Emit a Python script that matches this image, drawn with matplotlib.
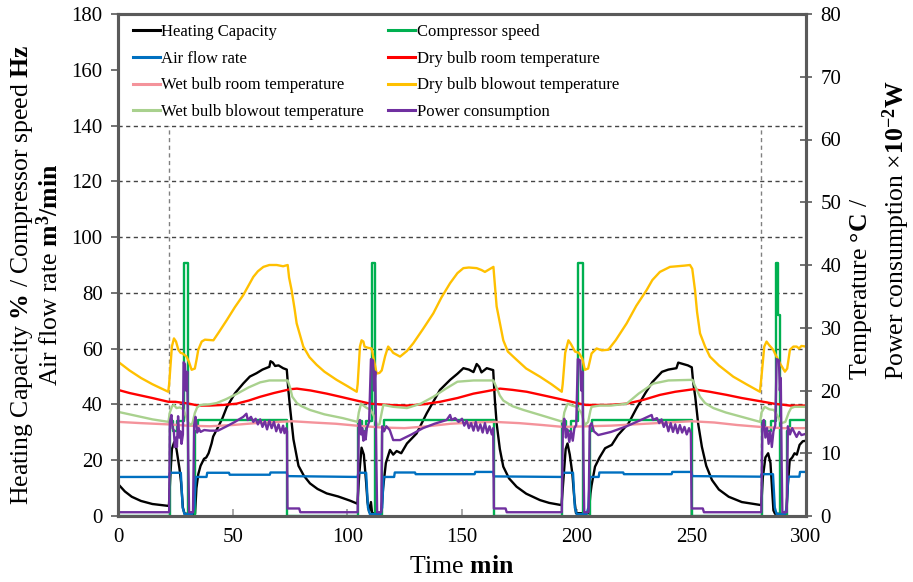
import matplotlib
matplotlib.use('Agg')
import matplotlib.pyplot as plt

plt.rcParams['font.family'] = ['Liberation Serif', 'DejaVu Serif']
plt.rcParams['mathtext.fontset'] = 'custom'
plt.rcParams['mathtext.rm'] = 'Liberation Serif'
plt.rcParams['mathtext.bf'] = 'Liberation Serif:bold'
plt.rcParams['mathtext.it'] = 'Liberation Serif:italic'

# ---- left axis series (%, Hz, m3/min) ----
cap_t = [0, 3, 6, 10, 15, 22.2, 22.8, 23.5, 24.5, 25.5, 26.8, 27.5, 28.3, 29, 33.6, 34.2, 35, 36, 37.5,
         38.5, 39.5, 40.8, 41.5, 43.7, 45.5, 47.4, 51, 54.6, 57.5, 60.4, 63, 66, 66.5, 67.5, 68.5, 70, 72,
         73.6, 74.3, 75, 76.5, 78.7, 81, 83.7, 87, 91, 96, 101.2, 104.4,
         105.2, 106.2, 107.2, 108.2, 108.8, 109.5, 110.3, 110.8, 114.8, 115.6, 116.8, 118.6, 120, 121.5,
         123.5, 126, 130.2, 134.6, 140.4, 144.8, 148, 150.6, 153, 155, 156.4, 157.5, 158.5, 160.8, 163.6,
         164.3, 165.1, 166.5, 168, 170.5, 173.8, 178, 184, 188, 193.4,
         194.3, 195.2, 196, 197, 198.1, 199, 199.7, 205.3, 206, 206.5, 208, 210, 212.4, 215.3, 218, 222.6,
         226, 229.9, 233, 237.2, 240, 243.5, 244.3, 246, 248.5, 250.2, 250.8, 251.7, 253, 254.6, 256.5,
         259, 262, 266.3, 272, 280.5,
         281.2, 282.3, 283.5, 284.5, 285.2, 285.8, 286.5, 291.4, 292, 292.9, 294, 295, 296, 297.2, 298.6, 300]
cap_v = [11.5, 8.8, 6.9, 5.4, 4.3, 3.6, 14, 24, 26.5, 24, 17, 12, 3, 0.8, 0.8, 10, 15, 18, 20.5,
         21, 22.5, 26, 28.5, 32, 35, 39, 44, 47.5, 50, 51.2, 52.5, 53.5, 55.5, 55, 53.8, 54, 53,
         52.5, 45, 39, 27.5, 18, 14.5, 11.7, 9.7, 8.1, 7, 5.5, 4.4,
         15, 24.5, 22, 12, 5, 1.5, 5, 1, 1, 10, 19, 23.7, 22, 23.3,
         22.5, 26, 29.6, 36.8, 45.2, 48.8, 51, 53, 52.5, 51.6, 54.5, 53.5, 51.5, 53, 52.3,
         42, 33.2, 24, 17.7, 13.5, 10.5, 8, 5.7, 4.7, 3.9,
         14, 24, 26, 22, 15.3, 6, 1, 1, 8, 11, 17.7, 21, 24.3, 25.5, 29, 33.2,
         38.5, 44, 48, 51.7, 52.5, 53, 55, 54.6, 54, 53.3, 48, 42.8, 33, 24.8, 18,
         12.9, 9.5, 6.9, 5, 3.9,
         14, 21, 22.5, 19, 10, 2, 0.8, 0.8, 10, 20, 21, 22.5, 22, 25.5, 26.8, 27]

# compressor speed, step changes
comp_t = [0, 22.5, 24.0, 25.8, 28.8, 30.7, 33.7, 35.0, 73.8,
          104.7, 106.2, 108.0, 110.6, 112.0, 114.9, 116.0, 163.8,
          193.6, 195.2, 197.6, 200.7, 202.6, 205.6, 206.8, 250.2,
          280.6, 282.2, 284.7, 287.0, 288.0, 288.7, 291.9, 293.0, 300]
comp_v = [0, 34, 30.5, 34, 90.8, 0, 30.5, 34.5, 0,
          34, 30.5, 34, 90.8, 0, 30.5, 34.5, 0,
          34, 30.5, 34, 90.8, 0, 30.5, 34.5, 0,
          34, 30.5, 34, 90.8, 72, 0, 30.5, 34.5, 34.5]

air_t = [0, 22.3, 22.6, 27.4, 28.2, 29, 32.4, 33.2, 33.9, 38.6, 38.9, 48.4, 48.7, 66.2, 66.5, 73.6, 73.9, 104.5,
         104.8, 108.2, 109, 109.8, 114.4, 115.2, 115.8, 120.4, 120.7, 129.5, 129.8, 155.5, 155.8, 163.6, 163.9, 193.6,
         193.9, 198.4, 199.2, 200, 204.3, 205.1, 205.7, 209.6, 209.9, 220.3, 220.6, 241.4, 241.7, 250.1, 250.4, 280.3,
         280.6, 285.6, 286.4, 287.2, 290.8, 291.6, 292.2, 297.1, 297.4, 300]
air_v = [14.0, 14.0, 15.5, 15.5, 3, 0.7, 0.7, 3, 14.0, 14.0, 15.5, 15.5, 14.8, 14.8, 15.6, 15.6, 14.3, 14.0,
         15.5, 15.5, 3, 0.7, 0.7, 3, 14.0, 14.0, 15.6, 15.6, 15.0, 15.0, 15.8, 15.8, 14.2, 14.0,
         15.5, 15.5, 3, 0.7, 0.7, 3, 14.0, 14.0, 15.6, 15.6, 15.0, 15.0, 15.8, 15.8, 14.3, 14.1,
         15.0, 15.0, 3, 0.7, 0.7, 3, 14.1, 14.1, 15.8, 15.8]

# ---- right axis series (deg C, x10^-2 W) ----
dbr_t = [0, 5, 10, 15, 22, 25, 31, 35, 40, 46, 51.7, 57, 62, 68, 75, 78, 84, 91, 97, 104, 110, 118,
         125.9, 133, 140.4, 148, 155, 161, 166.6, 172, 178.2, 187, 195.6, 200, 204, 207.2, 214, 221.8,
         229, 236.3, 243, 250.9, 258, 265.4, 272, 279.9, 286, 293, 300]
dbr_v = [20.1, 19.6, 19.2, 18.8, 18.2, 18.2, 17.9, 17.6, 17.6, 17.7, 17.9, 18.4, 19, 19.6, 20.2, 20.3,
         20, 19.5, 19, 18.4, 17.9, 17.7, 17.6, 17.8, 18.2, 18.8, 19.5, 19.9, 20.3, 20.1, 19.8, 19.1, 18.4,
         18, 17.7, 17.7, 17.7, 17.9, 18.5, 19.3, 19.8, 20.2, 19.8, 19.3, 18.8, 18.3, 17.9, 17.6, 17.6]

wbr_t = [0, 10, 22, 30, 40, 50, 60, 70, 76, 85, 95, 104, 115, 125, 135, 145, 155, 164, 175, 185,
         194, 205, 215, 225, 240, 250, 260, 270, 280, 290, 300]
wbr_v = [15.0, 14.8, 14.6, 14.4, 14.3, 14.5, 14.8, 15.0, 15.1, 14.9, 14.7, 14.4, 14.1, 14.0, 14.3,
         14.7, 14.9, 15.0, 14.8, 14.5, 14.2, 14.3, 14.4, 14.6, 14.9, 15.1, 14.9, 14.5, 14.2, 14.0, 14.0]

dbb_t = [0, 5, 10, 15, 21.9, 22.3, 23.5, 24.4, 25.3, 26.3, 27.3, 28.2, 29.9, 31, 32.1, 33.5, 34.3, 35,
         36.5, 37.9, 41.6, 44, 47.4, 51, 54.6, 57, 59, 61, 63.4, 66, 69.2, 72, 74, 74.6, 75.7, 77, 77.9,
         80.8, 83.5, 86.6, 90, 95.3, 100, 104.1,
         104.5, 105.5, 106.2, 107, 107.5, 109, 110.6, 111.5, 112.8, 114, 115, 116.5, 117.8, 119, 120, 123,
         126, 128.7, 133, 137.5, 141, 144.8, 148, 150.6, 153, 156.4, 158.5, 160, 163.7, 164.3, 165.1,
         168, 170, 173.8, 178, 184, 189, 193.5,
         193.9, 195, 196.4, 197.5, 199.3, 201, 202.5, 203.6, 205, 206.5, 208.7, 211, 213.8, 217, 221.8,
         226, 230.5, 233, 236.3, 240.7, 244, 247, 249.4, 250.4, 251.6, 252.5, 253.8, 256, 258.1, 262,
         268.3, 274, 279.9,
         280.4, 281.8, 282.8, 284, 285.7, 287, 288.7, 290.8, 291.8, 293, 294.5, 295.9, 297, 298, 300]
dbb_v = [24.6, 23.2, 22, 21, 19.8, 21, 27, 28.3, 27.8, 26.5, 26, 25.9, 25.4, 24.5, 23.3, 23.5, 25, 26.5,
         27.8, 28.1, 28.0, 29.3, 31.2, 33.3, 35.2, 36.8, 38.1, 39, 39.7, 40, 40, 39.8, 40, 38, 36, 33, 30.7,
         27, 25.3, 24.1, 23, 21.7, 20.7, 19.8,
         21, 27, 28, 27.8, 27, 26.8, 26.7, 25, 22.7, 22.8, 23.2, 25.5, 27, 26.5, 26, 25.4,
         26.3, 27.5, 29.8, 32.3, 34.8, 37.1, 38.7, 39.5, 39.6, 39.5, 39.2, 38.9, 39.7, 37, 33.4,
         28, 26.2, 24.9, 23.5, 22.2, 21, 19.8,
         21, 26, 28, 27.4, 26.2, 26, 25, 23.3, 23.5, 25.9, 26.7, 26.4, 26.5, 28, 30.7,
         33.5, 36, 37.6, 38.9, 39.7, 39.8, 39.9, 40, 39.4, 36, 32.5, 29.1, 27, 25.4, 24,
         22.2, 21, 19.8,
         21.5, 27, 27.8, 27.2, 26.5, 25.5, 24.3, 23, 23.5, 26.5, 27, 27, 26.7, 27.1, 27]

wbb_t = [0, 5, 10, 15, 22, 22.6, 23.6, 24.4, 25.5, 27, 28.5, 29.5, 30.5, 31.5, 32.5, 33.5, 34.5, 36, 40,
         43, 47, 52, 57, 62, 66, 74, 75, 76, 78, 80, 83.7, 90, 98, 104.4,
         105, 106, 107, 108.5, 110, 111.5, 113, 114, 115, 115.7, 120, 126, 132, 137.5, 143, 148, 155,
         163.7, 165, 166.5, 168, 172, 176.8, 185, 194,
         194.6, 196, 198, 200, 202, 203.6, 205, 206, 206.5, 210, 215, 221.8, 227, 233.4, 240, 250.5,
         251.5, 253.8, 256, 259.6, 265, 272, 280,
         280.6, 282, 284, 286, 287.5, 289.3, 291, 292.5, 293.5, 295, 300]
wbb_v = [16.6, 16.2, 15.8, 15.4, 15.0, 16.5, 17.5, 17.7, 17.2, 17.3, 17.0, 16, 15, 14.5, 14.8, 16.4, 17.3,
         17.7, 17.8, 18.0, 18.6, 19.5, 20.5, 21.3, 21.6, 21.6, 20.5, 19.0, 18, 17.5, 16.9, 16.2, 15.6, 15.0,
         16.5, 17.9, 17.6, 17.2, 17.0, 16, 14.5, 14.6, 16.5, 17.7, 17.4, 17.2, 17.9, 19, 20.3, 21.4, 21.6,
         21.6, 20.5, 19.2, 18.4, 17.5, 16.9, 16, 15.0,
         16.5, 17.9, 17.6, 17.4, 16.5, 14.5, 15, 16.8, 17.4, 17.6, 17.6, 17.9, 19.5, 21.1, 21.6, 21.7,
         20.8, 19, 18, 17.2, 16.5, 15.8, 15.0,
         16.5, 17.4, 17.0, 16.9, 16, 14.8, 15, 16.5, 17.2, 17.4, 17.4]

pow_t = [0, 22.3, 22.6, 23.3, 23.8, 24.3, 24.8, 25.3, 25.7, 26.2, 26.7, 27.2, 27.7, 28.3, 28.6, 29.2, 29.6,
         30.2, 30.6, 31, 32.7, 33.2, 33.8, 34.5, 35.2, 36, 37.6, 40, 43.6, 47.4, 51, 54.6, 56, 56.6, 58, 59,
         60, 61, 62, 63, 64, 65, 66, 67, 68, 69, 70, 71, 72, 72.6, 73.3, 73.7, 73.9, 79, 79.5, 104.5,
         105, 105.5, 106, 106.5, 107, 107.5, 108, 108.5, 109.5, 110.3, 111.2, 111.6, 112.2, 112.7, 113,
         114.8, 115.2, 116, 117, 118.5, 120, 123, 128, 133, 138, 143.3, 144.8, 145.5, 147, 148.5, 150, 151,
         152, 153, 154, 155, 156, 157, 158, 159, 160, 161, 162, 163, 163.6, 163.9, 169, 169.5, 193.5,
         194, 194.6, 195.3, 196, 196.8, 197.5, 198.3, 199, 199.8, 200.5, 201.5, 202, 202.5, 203, 203.3,
         205.2, 205.7, 206.5, 207.5, 209.4, 215, 221.8, 228, 232.7, 233.3, 235, 236, 237, 238, 239, 240,
         241, 242, 243, 244, 245, 246, 247, 248, 249, 249.8, 250.1, 255, 255.5, 280.5,
         281, 281.6, 282.3, 283, 283.7, 284.4, 285.1, 285.8, 286.6, 287.2, 288.2, 288.6, 289, 289.4, 289.7,
         291.6, 292.1, 293, 294, 295.9, 297, 298, 300]
pow_v = [0.6, 0.6, 15, 16.1, 14, 13.7, 11, 12.5, 11, 15.9, 12.5, 13.5, 11.5, 13, 24.5, 24.2, 20,
         23, 10, 0.6, 0.6, 14.5, 15.8, 13.3, 14, 13.4, 13.7, 13.6, 13.6, 14.3, 15, 15.8, 16.3, 15.3, 15.8, 15.0,
         15.5, 14.6, 15.4, 14.2, 15.1, 13.8, 15.2, 14, 15, 13.5, 14.6, 13.3, 14.4, 13.2, 14, 13.5, 1.2, 1.2, 0.6, 0.6,
         14.5, 15.3, 13, 14, 12, 13.5, 12.2, 14, 15, 25, 24.8, 20, 23, 8, 0.6,
         0.6, 14.3, 13.5, 14.3, 13.7, 12.1, 12.1, 13.0, 14.0, 14.7, 15.3, 16.1, 15.3, 15.6, 15.0, 15.5, 14.4,
         15.2, 14.0, 14.8, 13.6, 15.0, 13.6, 14.6, 13.3, 14.8, 13.2, 14.3, 13.0, 14, 1.2, 1.2, 0.6, 0.6,
         14.5, 15.5, 12.5, 13.8, 11.8, 13.5, 12, 14, 14.5, 25, 24.8, 20, 23, 8, 0.6,
         0.6, 14.3, 14.8, 13.5, 12.9, 13.4, 14.3, 15.3, 16.1, 15.3, 15.6, 14.8, 15.4, 14.2, 15, 13.5,
         14.8, 13.4, 14.6, 13.2, 14.5, 13.3, 14.2, 13, 14, 13.2, 1.2, 1.2, 0.6, 0.6,
         14.5, 15.3, 12.5, 14, 11.5, 13.5, 11, 13.5, 14.5, 25, 24.8, 20, 22, 8, 0.6,
         0.6, 14.3, 13, 14, 12.6, 13.4, 12.9, 13.1]

defrost_marks = [22.2, 280.4]
grid_levels = [20, 40, 60, 80, 100, 120, 140]

fig = plt.figure(figsize=(9.13, 5.82), dpi=100)
ax = fig.add_axes([118 / 913, 66 / 582, 688 / 913, 502 / 582])
ax2 = ax.twinx()

dash = (0, (3, 2.5))
ax.hlines(grid_levels, 0, 300, colors='#454545', linestyles=dash, lw=1.0, zorder=0)
ax.vlines(defrost_marks, 0, 140, colors='#808080', linestyles=dash, lw=1.0, zorder=0)

lw = 1.7
h_cap, = ax.plot(cap_t, cap_v, color='black', lw=lw, label='Heating Capacity')
h_comp, = ax.plot(comp_t, comp_v, color='#00b050', lw=lw, drawstyle='steps-post', label='Compressor speed')
h_air, = ax.plot(air_t, air_v, color='#0070c0', lw=lw, label='Air flow rate')

h_dbr, = ax2.plot(dbr_t, dbr_v, color='#ff0000', lw=lw, label='Dry bulb room temperature')
h_wbr, = ax2.plot(wbr_t, wbr_v, color='#f4939b', lw=lw, label='Wet bulb room temperature')
h_dbb, = ax2.plot(dbb_t, dbb_v, color='#ffc000', lw=lw, label='Dry bulb blowout temperature')
h_wbb, = ax2.plot(wbb_t, wbb_v, color='#a9d18e', lw=lw, label='Wet bulb blowout temperature')
h_pow, = ax2.plot(pow_t, pow_v, color='#7030a0', lw=lw, label='Power consumption')

ax.set_xlim(0, 300)
ax.set_ylim(0, 180)
ax2.set_ylim(0, 80)
ax.set_xticks(range(0, 301, 50))
ax.set_yticks(range(0, 181, 20))
ax2.set_yticks(range(0, 81, 10))

spine_c = '#5a5a5a'
for a in (ax, ax2):
    for s in a.spines.values():
        s.set_color(spine_c)
        s.set_linewidth(2.2)
ax.tick_params(axis='x', direction='in', length=5, width=1.2, color='#999999', labelsize=15, pad=9)
ax.tick_params(axis='y', direction='out', length=5, width=1.2, color=spine_c, labelsize=15, pad=6)
ax2.tick_params(axis='y', direction='inout', length=9, width=1.2, color=spine_c, labelsize=15, pad=6)

ax.set_xlabel(r'Time $\mathbf{min}$', fontsize=18.5, labelpad=6)

fig.text(36 / 913, 1 - 275 / 582,
         'Heating Capacity $\\mathbf{\\%}$ / Compressor speed $\\mathbf{Hz}$\n'
         'Air flow rate $\\mathbf{m^3/min}$',
         rotation=90, ha='center', va='center', fontsize=18.5, linespacing=1.05)
fig.text(880 / 913, 1 - 380 / 582,
         'Temperature $\\mathbf{°C}$ /\nPower consumption $\\times\\mathbf{10^{-2}W}$',
         rotation=90, ha='center', va='bottom', multialignment='left', fontsize=18.5, linespacing=1.3)

handles = [h_cap, h_air, h_wbr, h_wbb, h_comp, h_dbr, h_dbb, h_pow]
leg = ax2.legend(handles=handles, ncol=2, loc='upper left', bbox_to_anchor=(0.022, 0.98),
                 frameon=False, fontsize=12, borderpad=0, borderaxespad=0,
                 handlelength=1.6, handletextpad=0.1, labelspacing=0.64, columnspacing=1.45)
for line in leg.get_lines():
    line.set_linewidth(2.2)

fig.savefig('out.png', dpi=100)
